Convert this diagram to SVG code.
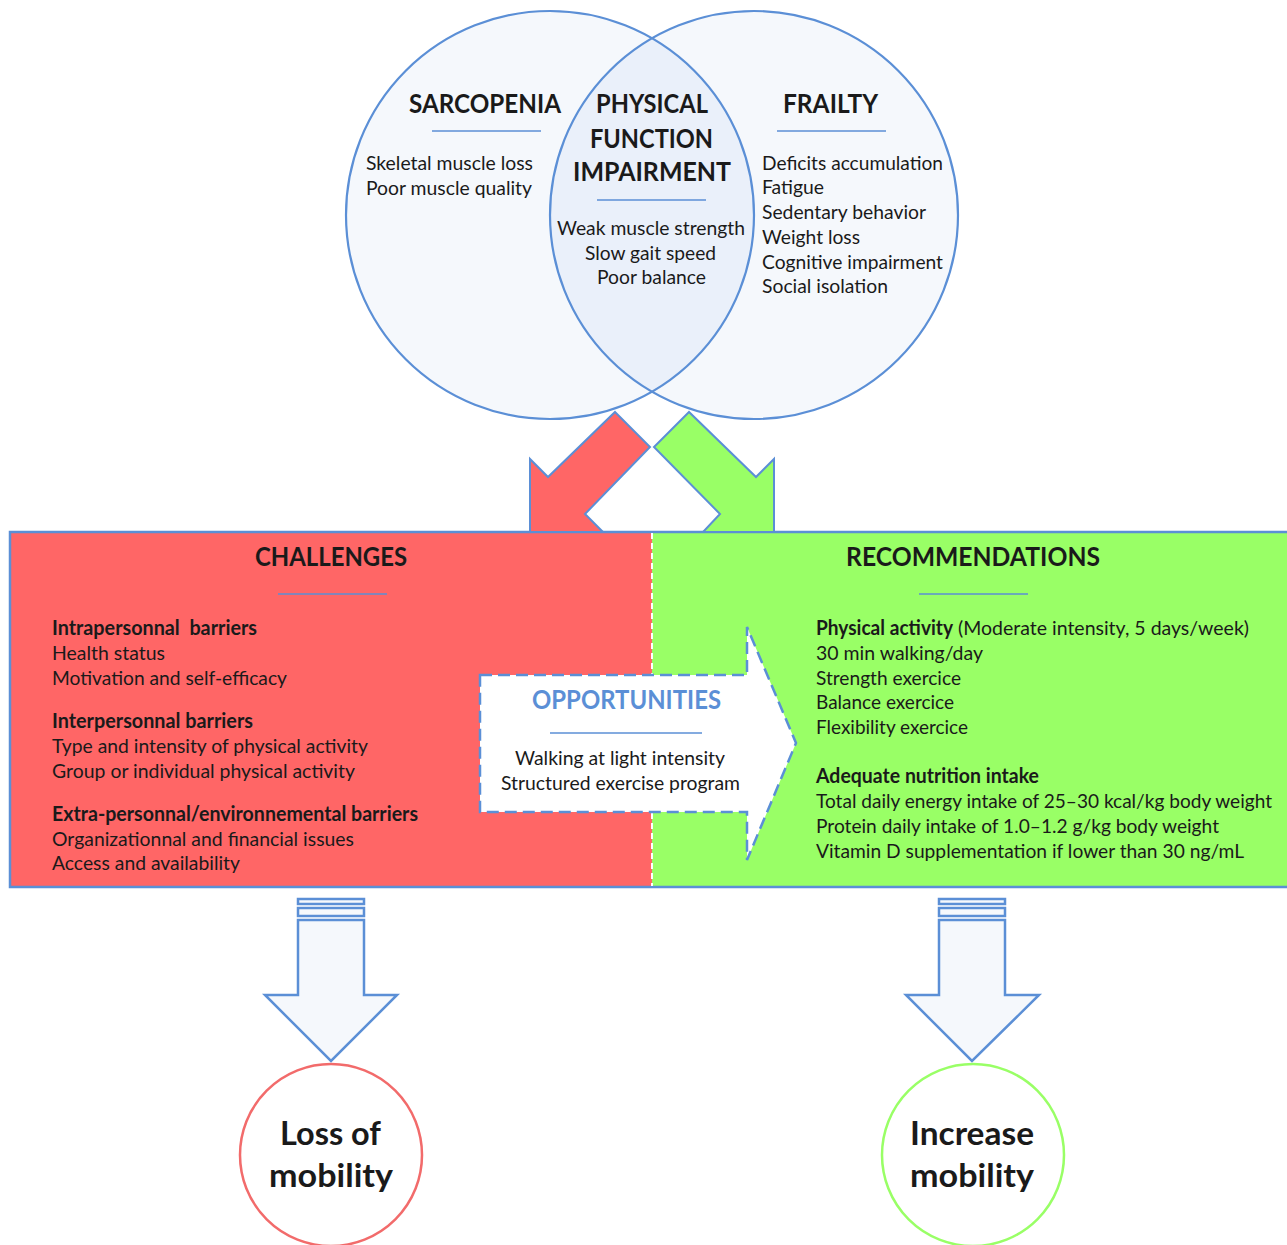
<svg xmlns="http://www.w3.org/2000/svg" width="1287" height="1245" viewBox="0 0 1287 1245">
<style>
text{font-family:Lato,"Liberation Sans",Arial,sans-serif;fill:#1a1a1a;}
.b{font-size:20px;}
.bb{font-size:20px;font-weight:bold;}
.h{font-size:26px;font-weight:bold;}
.m{text-anchor:middle;}
.ul{stroke:#5b8fd6;stroke-width:1.6;}
.vc{stroke:#5b8fd6;stroke-width:2.2;fill:none;}
.arr{stroke:#5b8fd6;stroke-width:2;stroke-linejoin:miter;}
.ba{fill:#f5f8fc;stroke:#5b8fd6;stroke-width:2.5;}
.big{font-size:33px;font-weight:bold;text-anchor:middle;}
</style>

<!-- Venn -->
<g id="venn-background">
<circle cx="550" cy="215" r="204" fill="#f5f8fc"/>
<circle cx="754" cy="215" r="204" fill="#f5f8fc"/>
<path d="M652,38.3 A204,204 0 0,1 652,391.7 A204,204 0 0,1 652,38.3 Z" fill="#eaf0fa"/>
<circle class="vc" cx="550" cy="215" r="204"/>
<circle class="vc" cx="754" cy="215" r="204"/>
</g>

<g id="sarcopenia">
<text class="h m" x="485" y="113" textLength="152" lengthAdjust="spacingAndGlyphs">SARCOPENIA</text>
<line class="ul" x1="432" y1="131" x2="541" y2="131"/>
<text class="b" x="366" y="170" textLength="167" lengthAdjust="spacingAndGlyphs">Skeletal muscle loss</text>
<text class="b" x="366" y="195" textLength="166" lengthAdjust="spacingAndGlyphs">Poor muscle quality</text>
</g>

<g id="physical-function-impairment">
<text class="h m" x="652" y="113" textLength="112" lengthAdjust="spacingAndGlyphs">PHYSICAL</text>
<text class="h m" x="651.5" y="148" textLength="123" lengthAdjust="spacingAndGlyphs">FUNCTION</text>
<text class="h m" x="652" y="181" textLength="158" lengthAdjust="spacingAndGlyphs">IMPAIRMENT</text>
<line class="ul" x1="597" y1="200" x2="706" y2="200"/>
<text class="b m" x="651" y="235" textLength="188" lengthAdjust="spacingAndGlyphs">Weak muscle strength</text>
<text class="b m" x="650.5" y="260" textLength="131" lengthAdjust="spacingAndGlyphs">Slow gait speed</text>
<text class="b m" x="651.5" y="284" textLength="109" lengthAdjust="spacingAndGlyphs">Poor balance</text>
</g>

<g id="frailty">
<text class="h m" x="830.5" y="113" textLength="95" lengthAdjust="spacingAndGlyphs">FRAILTY</text>
<line class="ul" x1="777" y1="131" x2="886" y2="131"/>
<text class="b" x="762" y="170" textLength="181" lengthAdjust="spacingAndGlyphs">Deficits accumulation</text>
<text class="b" x="762" y="194" textLength="62" lengthAdjust="spacingAndGlyphs">Fatigue</text>
<text class="b" x="762" y="219" textLength="164" lengthAdjust="spacingAndGlyphs">Sedentary behavior</text>
<text class="b" x="762" y="244" textLength="98" lengthAdjust="spacingAndGlyphs">Weight loss</text>
<text class="b" x="762" y="269" textLength="181" lengthAdjust="spacingAndGlyphs">Cognitive impairment</text>
<text class="b" x="762" y="293" textLength="126" lengthAdjust="spacingAndGlyphs">Social isolation</text>
</g>

<!-- Panel -->
<g id="challenges">
<rect x="10" y="532" width="642" height="355" fill="#ff6666"/>
<text class="h m" x="331" y="566" textLength="152" lengthAdjust="spacingAndGlyphs">CHALLENGES</text>
<line class="ul" x1="278" y1="594" x2="387" y2="594"/>
<text class="bb" x="52" y="635" textLength="205" lengthAdjust="spacingAndGlyphs" xml:space="preserve" style="white-space:pre">Intrapersonnal  barriers</text>
<text class="b" x="52" y="660" textLength="113" lengthAdjust="spacingAndGlyphs">Health status</text>
<text class="b" x="52" y="685" textLength="235" lengthAdjust="spacingAndGlyphs">Motivation and self-efficacy</text>
<text class="bb" x="52" y="728" textLength="201" lengthAdjust="spacingAndGlyphs">Interpersonnal barriers</text>
<text class="b" x="52" y="753" textLength="316" lengthAdjust="spacingAndGlyphs">Type and intensity of physical activity</text>
<text class="b" x="52" y="778" textLength="303" lengthAdjust="spacingAndGlyphs">Group or individual physical activity</text>
<text class="bb" x="52" y="821" textLength="366" lengthAdjust="spacingAndGlyphs">Extra-personnal/environnemental barriers</text>
<text class="b" x="52" y="846" textLength="302" lengthAdjust="spacingAndGlyphs">Organizationnal and financial issues</text>
<text class="b" x="52" y="870" textLength="188" lengthAdjust="spacingAndGlyphs">Access and availability</text>
</g>

<g id="recommendations">
<rect x="652" y="532" width="650" height="355" fill="#99ff66"/>
<text class="h m" x="973" y="566" textLength="254" lengthAdjust="spacingAndGlyphs">RECOMMENDATIONS</text>
<line class="ul" x1="919" y1="594" x2="1028" y2="594"/>
<text class="bb" x="816" y="635" textLength="137" lengthAdjust="spacingAndGlyphs">Physical activity</text>
<text class="b" x="958" y="635" textLength="291" lengthAdjust="spacingAndGlyphs">(Moderate intensity, 5 days/week)</text>
<text class="b" x="816" y="660" textLength="167" lengthAdjust="spacingAndGlyphs">30 min walking/day</text>
<text class="b" x="816" y="685" textLength="145" lengthAdjust="spacingAndGlyphs">Strength exercice</text>
<text class="b" x="816" y="709" textLength="138" lengthAdjust="spacingAndGlyphs">Balance exercice</text>
<text class="b" x="816" y="734" textLength="152" lengthAdjust="spacingAndGlyphs">Flexibility exercice</text>
<text class="bb" x="816" y="783" textLength="223" lengthAdjust="spacingAndGlyphs">Adequate nutrition intake</text>
<text class="b" x="816" y="808" textLength="456" lengthAdjust="spacingAndGlyphs">Total daily energy intake of 25–30 kcal/kg body weight</text>
<text class="b" x="816" y="833" textLength="403" lengthAdjust="spacingAndGlyphs">Protein daily intake of 1.0–1.2 g/kg body weight</text>
<text class="b" x="816" y="858" textLength="428" lengthAdjust="spacingAndGlyphs">Vitamin D supplementation if lower than 30 ng/mL</text>
</g>

<g id="panel-frame">
<rect x="10" y="532" width="1295" height="355" fill="none" stroke="#5b8fd6" stroke-width="2.5"/>
<line x1="652" y1="533" x2="652" y2="886" stroke="#ffffff" stroke-width="2" stroke-dasharray="6 4"/>
</g>

<g id="opportunities">
<polygon points="480,675 747,675 747,627 796,743 747,860 747,812 480,812" fill="#ffffff" stroke="#5b8fd6" stroke-width="2.5" stroke-dasharray="12 6"/>
<text class="m" x="626.5" y="709" font-size="26" font-weight="bold" style="fill:#5b8fd6" textLength="189" lengthAdjust="spacingAndGlyphs">OPPORTUNITIES</text>
<line class="ul" x1="550" y1="733" x2="702" y2="733"/>
<text class="b m" x="620" y="765" textLength="210" lengthAdjust="spacingAndGlyphs">Walking at light intensity</text>
<text class="b m" x="620.5" y="790" textLength="239" lengthAdjust="spacingAndGlyphs">Structured exercise program</text>
</g>

<!-- Connectors -->
<g id="connectors">
<polygon class="arr" fill="#ff6666" points="615,412 650,447 585,514 603,532 530,532 530,459 548,477"/>
<polygon class="arr" fill="#99ff66" points="689,412 654,447 720,514 703,532 774,532 774,459 756,477"/>
<g id="arrow-loss">
<rect class="ba" x="298" y="899" width="66" height="5"/>
<rect class="ba" x="298" y="908" width="66" height="8"/>
<polygon class="ba" points="298,920 364,920 364,995 397,995 331,1061 265,995 298,995"/>
</g>
<g id="arrow-increase">
<rect class="ba" x="939" y="899" width="66" height="5"/>
<rect class="ba" x="939" y="908" width="66" height="8"/>
<polygon class="ba" points="939,920 1005,920 1005,995 1039,995 972,1061 906,995 939,995"/>
</g>
</g>

<g id="loss-of-mobility">
<circle cx="331" cy="1155" r="91" fill="#ffffff" stroke="#f26b6b" stroke-width="2.5"/>
<text class="big" x="330.5" y="1145" textLength="101" lengthAdjust="spacingAndGlyphs">Loss of</text>
<text class="big" x="331" y="1187" textLength="124" lengthAdjust="spacingAndGlyphs">mobility</text>
</g>

<g id="increase-mobility">
<circle cx="973" cy="1155" r="91" fill="#ffffff" stroke="#99ff66" stroke-width="2.5"/>
<text class="big" x="972" y="1145" textLength="124" lengthAdjust="spacingAndGlyphs">Increase</text>
<text class="big" x="972" y="1187" textLength="124" lengthAdjust="spacingAndGlyphs">mobility</text>
</g>
</svg>
